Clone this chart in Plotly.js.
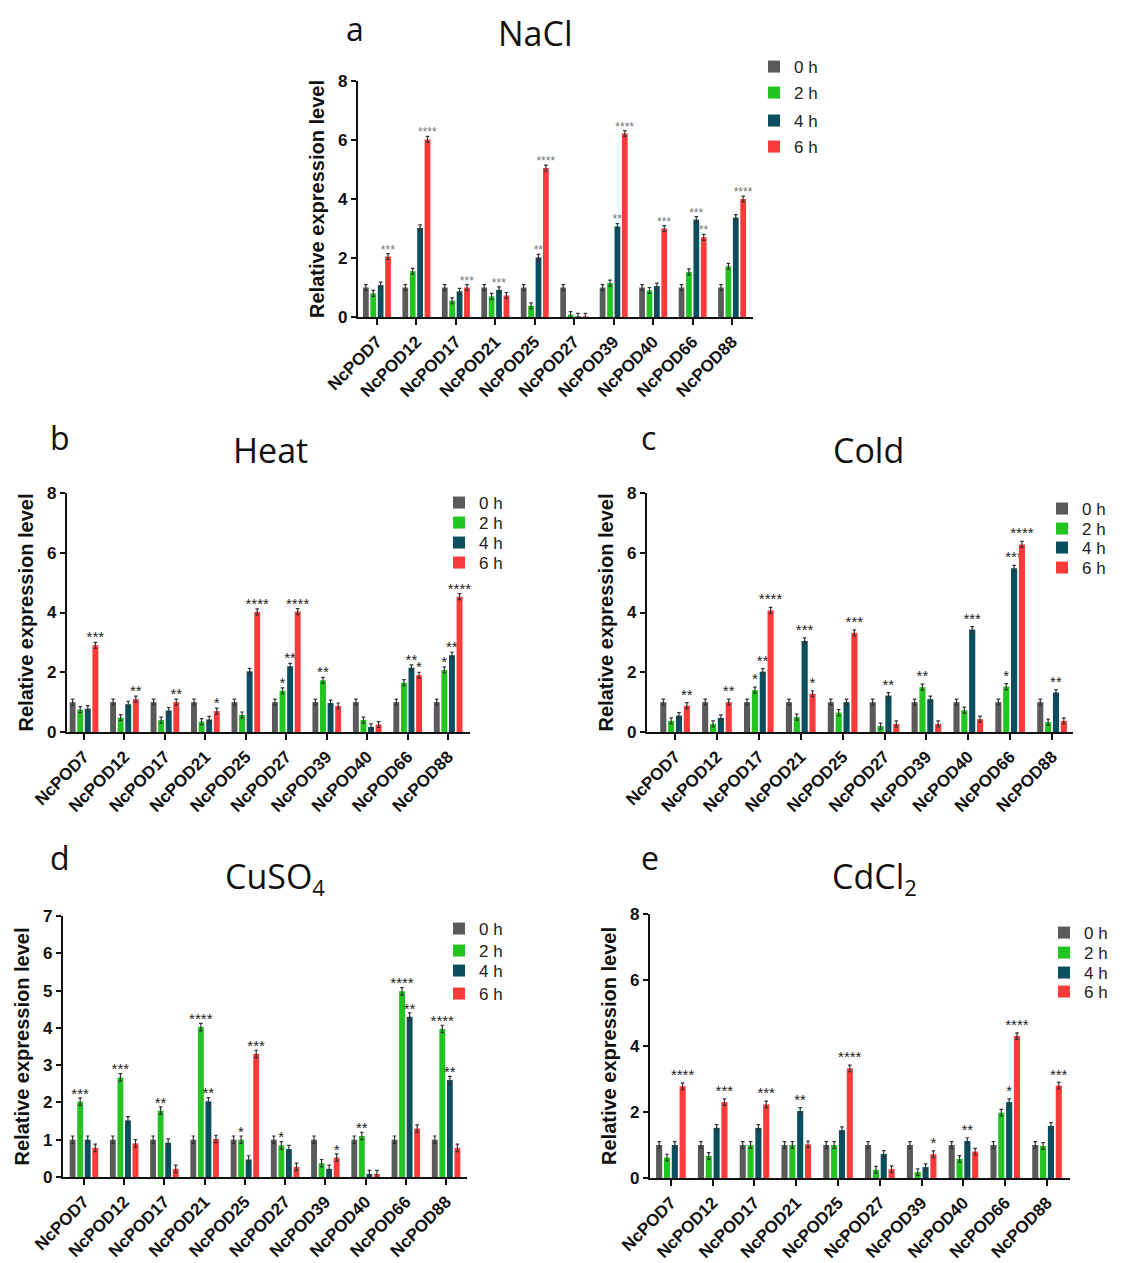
<!DOCTYPE html>
<html><head><meta charset="utf-8">
<script src="https://cdn.plot.ly/plotly-3.0.1.min.js"></script>
<style>html,body{margin:0;padding:0;background:#fff;}#chart{width:1142px;height:1263px;}</style>
</head><body><div id="chart"></div>
<script>
// ---------- data ----------
const genes = ['NcPOD7','NcPOD12','NcPOD17','NcPOD21','NcPOD25','NcPOD27','NcPOD39','NcPOD40','NcPOD66','NcPOD88'];
const timeLabels = ['0 h','2 h','4 h','6 h'];
const control = [1,1,1,1,1,1,1,1,1,1];

// a NaCl
const nacl2 = [0.80,1.55,0.55,0.70,0.38,0.08,1.15,0.90,1.53,1.72];
const nacl4 = [1.08,3.02,0.87,0.92,2.02,0.02,3.07,1.05,3.30,3.37];
const nacl6 = [2.05,6.02,1.00,0.73,5.05,0.02,6.22,3.00,2.70,4.00];
const nacl4Stars = ['','','','***','**','','**','','***',''];
const nacl6Stars = ['***','****','***','','****','','****','***','**','****'];

// b Heat
const heat2 = [0.75,0.48,0.40,0.35,0.57,1.38,1.73,0.40,1.65,2.08];
const heat4 = [0.78,0.93,0.72,0.42,2.03,2.20,0.97,0.17,2.15,2.57];
const heat6 = [2.90,1.10,1.00,0.70,4.02,4.03,0.87,0.25,1.90,4.53];
const heat2Stars = ['','','','','','*','**','','','*'];
const heat4Stars = ['','','','','','**','','','**','**'];
const heat6Stars = ['***','**','**','*','****','****','','','*','****'];

// c Cold
const cold2 = [0.37,0.27,1.40,0.50,0.65,0.20,1.50,0.73,1.52,0.33];
const cold4 = [0.55,0.47,2.02,3.05,1.00,1.22,1.10,3.43,5.48,1.32];
const cold6 = [0.88,1.00,4.07,1.28,3.32,0.27,0.27,0.43,6.28,0.37];
const cold2Stars = ['','','*','','','','**','','*',''];
const cold4Stars = ['','','**','***','','**','','***','***','**'];
const cold6Stars = ['**','**','****','*','***','','','','****',''];

// d CuSO4
const cu2 = [2.02,2.67,1.78,4.02,1.00,0.85,0.37,1.10,4.98,3.97];
const cu4 = [1.00,1.52,0.92,2.03,0.47,0.75,0.22,0.08,4.30,2.60];
const cu6 = [0.78,0.90,0.22,1.02,3.30,0.27,0.52,0.08,1.30,0.78];
const cu2Stars = ['***','***','**','****','*','*','','**','****','****'];
const cu4Stars = ['','','','**','','','','','**','**'];
const cu6Stars = ['','','','','***','','*','','',''];

// e CdCl2
const cd2 = [0.62,0.67,1.00,1.00,1.00,0.25,0.18,0.58,1.98,0.97];
const cd4 = [1.00,1.52,1.52,2.03,1.45,0.73,0.33,1.12,2.30,1.58];
const cd6 = [2.78,2.30,2.23,1.02,3.32,0.27,0.72,0.80,4.30,2.80];
const cd4Stars = ['','','','**','','','','**','*',''];
const cd6Stars = ['****','***','***','','****','','*','','****','***'];

// ---------- styling / layout ----------
const W = 1142, H = 1263;
const colors = ['#5a5a5a','#22c41f','#0b4e5d','#fb3a3a'];
const FONT = 'Liberation Sans, Arial, sans-serif';
const fx = v => v / W;
const fy = v => 1 - v / H;

const panels = [
  {letter:'a', title:'NaCl', vals:[control,nacl2,nacl4,nacl6], stars:[null,null,nacl4Stars,nacl6Stars],
   px:[358,753], py:[81,317], xr:[-0.48,9.53], ymax:8, dtick:2,
   legX:754, legY:[67,93,121,147], legFont:17, starFont:{size:12,color:'#777'}, lpos:[355,28], tpos:[535,33]},
  {letter:'b', title:'Heat', vals:[control,heat2,heat4,heat6], stars:[null,heat2Stars,heat4Stars,heat6Stars],
   px:[67,470], py:[493,732], xr:[-0.42,9.54], ymax:8, dtick:2,
   legX:439, legY:[503,523,543,563], legFont:17, starFont:{size:15,color:'#222'}, lpos:[60,437], tpos:[270,450]},
  {letter:'c', title:'Cold', vals:[control,cold2,cold4,cold6], stars:[null,cold2Stars,cold4Stars,cold6Stars],
   px:[647,1073], py:[493,732], xr:[-0.67,9.5], ymax:8, dtick:2,
   legX:1042, legY:[509,529,548,568], legFont:17, starFont:{size:15,color:'#222'}, lpos:[648,437], tpos:[868,450]},
  {letter:'d', title:'CuSO<sub><span style="font-size:22px">4</span></sub>', vals:[control,cu2,cu4,cu6], stars:[null,cu2Stars,cu4Stars,cu6Stars],
   px:[63,467], py:[916,1177], xr:[-0.52,9.52], ymax:7, dtick:1,
   legX:439, legY:[929,951,971,994], legFont:17, starFont:{size:15,color:'#222'}, lpos:[60,857], tpos:[275,878]},
  {letter:'e', title:'CdCl<sub><span style="font-size:22px">2</span></sub>', vals:[control,cd2,cd4,cd6], stars:[null,null,cd4Stars,cd6Stars],
   px:[650,1070], py:[914,1178], xr:[-0.5,9.55], ymax:8, dtick:2,
   legX:1044, legY:[933,953,973,992], legFont:17, starFont:{size:15,color:'#222'}, lpos:[650,857], tpos:[875,878]}
];

const traces = [];
const layout = {
  width: W, height: H,
  margin: {l:0, r:0, t:0, b:0},
  paper_bgcolor: '#fff', plot_bgcolor: '#fff',
  barmode: 'group', bargap: 0.25, bargroupgap: 0.22,
  font: {family: FONT, color: '#111'},
  annotations: [],
  showlegend: true
};

let legIdx = 0;
panels.forEach((p, i) => {
  const n = i === 0 ? '' : String(i + 1);
  p.vals.forEach((v, k) => {
    legIdx += 1;
    const legName = 'legend' + (legIdx === 1 ? '' : legIdx);
    const tr = {
      type: 'bar', x: genes, y: v, name: timeLabels[k],
      xaxis: 'x' + n, yaxis: 'y' + n,
      legend: legName,
      marker: {color: colors[k], line: {width: 0}},
      error_y: {type: 'constant', value: 0.1, thickness: 1.2, width: 1.8, color: '#333'},
      hoverinfo: 'x+y+name'
    };
    if (p.stars[k]) {
      tr.text = p.stars[k];
      tr.textposition = 'outside';
      tr.textangle = 0;
      tr.constraintext = 'none';
      tr.cliponaxis = false;
      tr.textfont = {family: FONT, size: p.starFont.size, color: p.starFont.color};
    }
    traces.push(tr);
    layout[legName] = {
      x: fx(p.legX), y: fy(p.legY[k]), xanchor: 'left', yanchor: 'middle',
      bgcolor: 'rgba(0,0,0,0)', borderwidth: 0, itemwidth: 30,
      font: {family: FONT, size: p.legFont, color: '#222'}
    };
  });
  layout['xaxis' + n] = {
    domain: [fx(p.px[0]), fx(p.px[1])], anchor: 'y' + n,
    type: 'category', range: p.xr, fixedrange: true,
    showline: true, linewidth: 2.2, linecolor: '#111',
    ticks: 'outside', ticklen: 6, tickwidth: 2, tickcolor: '#111',
    tickangle: -45, showgrid: false, zeroline: false,
    tickfont: {family: FONT, size: 17, color: '#111', weight: 'bold'}
  };
  layout['yaxis' + n] = {
    domain: [fy(p.py[1]), fy(p.py[0])], anchor: 'x' + n,
    range: [0, p.ymax], dtick: p.dtick, tick0: 0, fixedrange: true,
    showline: true, linewidth: 2.2, linecolor: '#111',
    ticks: 'outside', ticklen: 5, tickwidth: 2, tickcolor: '#111',
    showgrid: false, zeroline: false,
    tickfont: {family: FONT, size: 17, color: '#111', weight: 'bold'},
    title: {text: 'Relative expression level', standoff: 8,
            font: {family: FONT, size: 20, color: '#111', weight: 'bold'}}
  };
  layout.annotations.push({
    xref: 'paper', yref: 'paper', x: fx(p.lpos[0]), y: fy(p.lpos[1]),
    xanchor: 'center', yanchor: 'middle', showarrow: false, text: p.letter,
    font: {family: 'Open Sans, sans-serif', size: 32, color: '#111'}
  });
  layout.annotations.push({
    xref: 'paper', yref: 'paper', x: fx(p.tpos[0]), y: fy(p.tpos[1]),
    xanchor: 'center', yanchor: 'middle', showarrow: false, text: p.title,
    font: {family: 'Open Sans, sans-serif', size: 34, color: '#111'}
  });
});

Plotly.newPlot('chart', traces, layout, {displayModeBar: false, staticPlot: true});
</script>
</body></html>
